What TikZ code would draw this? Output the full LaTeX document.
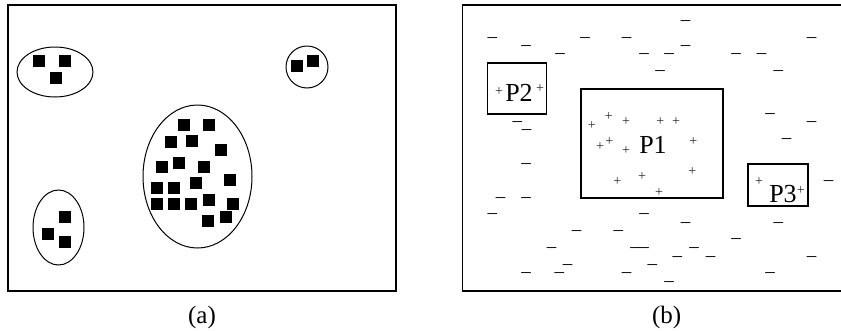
\documentclass[tikz,border=0pt]{standalone}
\usepackage{fontspec}
\setmainfont{Liberation Serif}
\begin{document}
\begin{tikzpicture}[x=1pt,y=-1pt,
  frame/.style={line width=1.4pt},
  clus/.style={line width=1pt},
  pbox/.style={line width=1.3pt},
  sq/.style={fill=black},
  lbl/.style={font=\fontsize{26}{28}\selectfont, inner sep=0pt},
  captxt/.style={font=\fontsize{25}{28}\selectfont, inner sep=0pt},
  pl/.style={font=\fontsize{14}{16}\selectfont, inner sep=0pt, anchor=base, yshift=-3.4pt, text=black!85},
  mn/.style={font=\fontsize{19}{21}\selectfont, inner sep=0pt, anchor=base, yshift=-4.6pt}
]
\useasboundingbox (0,0) rectangle (841,330);

% ---------- panel (a) ----------
\draw[frame] (8,5) rectangle (396,291);
\draw[clus] (55,72) ellipse [x radius=38, y radius=25];
\draw[clus] (307,67) ellipse [x radius=21, y radius=21];
\draw[clus] (58.5,227.5) ellipse [x radius=25.5, y radius=37.5];
\draw[clus] (197.5,176.5) ellipse [x radius=54.5, y radius=71.5];
\foreach \x/\y in {39/61, 65/61, 56/78, 297/66, 313/61, 65/217, 48/234, 65/242,
  184/125, 209/125, 171/142, 192/141, 221/150, 162/167, 179/163, 204/167,
  230/180, 157/188, 174/188, 196/183, 157/204, 174/204, 191/204, 209/200,
  233/204, 208/221, 226/217}
  \fill[sq] (\x-6,\y-6) rectangle ++(12,12);
\node[captxt] (capa) at (202,317) {(a)};

% ---------- panel (b) ----------
\draw[frame] (842,5) -- (462.7,5) -- (462.7,291) -- (842,291);
\draw[pbox] (487.7,63) rectangle (546.7,114);
\draw[pbox] (581,89) rectangle (723,198);
\draw[pbox] (748,164) rectangle (808,206);
\node[lbl] (p2) at (519,93) {P2};
\node[lbl] (p1) at (653,145) {P1};
\node[lbl] (p3) at (783,194) {P3};

\foreach [count=\i] \x/\y in {591.7/125.7, 608.7/117.3, 626/122.3, 660.3/122.3,
  676/122.3, 600/146.7, 609.3/142.3, 626/151, 693.3/142.3, 617.3/181.7,
  642/176.7, 692.3/172.3, 659/192.7, 499/92.3, 540/88.7, 759/181.7, 800.7/190.7}
  \node[pl] (plus\i) at (\x,\y) {+};

\foreach [count=\i] \x/\y in {492.3/37.7, 526/46, 560/54.3, 585/37.7, 626.7/37.7,
  685.7/21.3, 685.7/46, 644/54.3, 669/54.3, 660/71.3, 736/54.3, 761.7/54.3,
  811.7/37.7, 778.3/71.3, 770/113.7, 811.7/122, 786.7/138.7, 828.7/181,
  517.3/122, 526.7/130.3, 526/164, 500.7/198, 526/198, 492.3/214.3, 644/214.3,
  685.7/222.7, 778.3/222.7, 576.7/230.7, 618.3/230.7, 736/239.3, 551.7/248.3,
  635/247.7, 644/248.3, 694/248.3, 677.3/256.7, 710.7/256.7, 811.7/256.7,
  567.7/265, 652.3/265, 526/273.3, 559.3/273.3, 626.7/273.3, 770/273.3, 669/281.7}
  \node[mn] (minus\i) at (\x,\y) {–};

\node[captxt] (capb) at (666.7,317) {(b)};
\end{tikzpicture}
\end{document}
